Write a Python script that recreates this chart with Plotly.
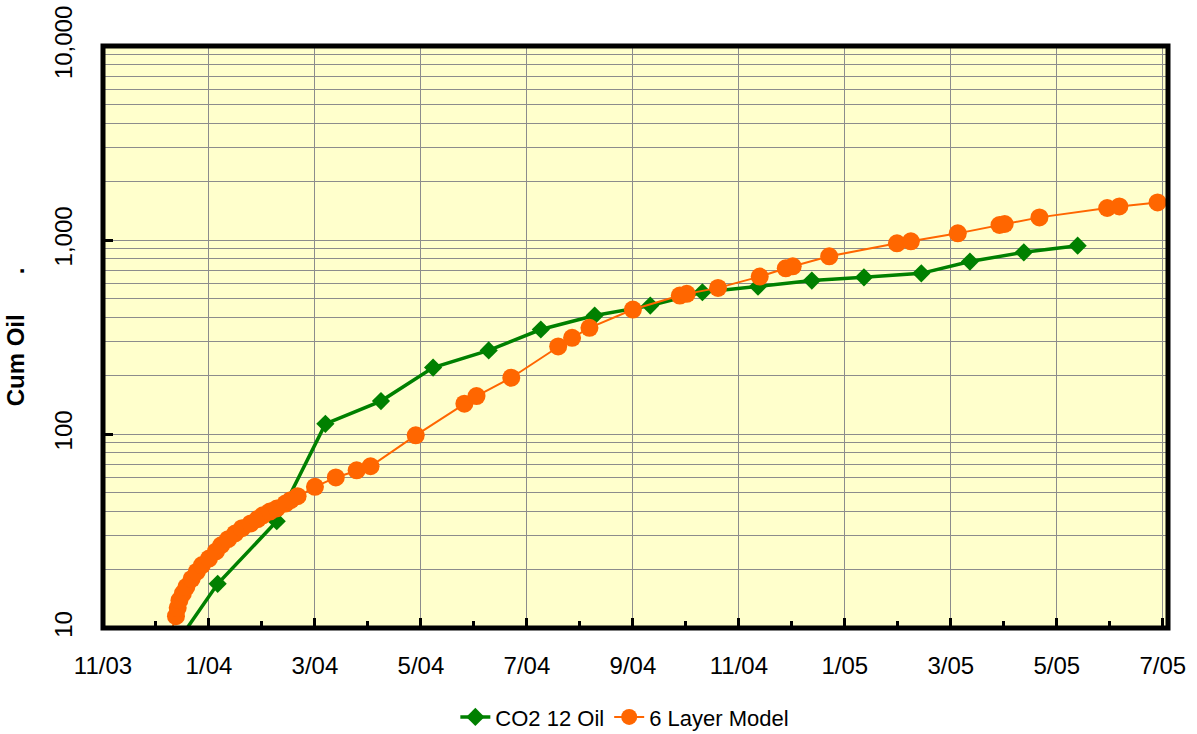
import plotly.graph_objects as go

# ---------------- data ----------------
co2_dates = ["2003-12-07", "2004-01-06", "2004-02-09", "2004-03-08", "2004-04-09",
             "2004-05-09", "2004-06-10", "2004-07-10", "2004-08-10", "2004-09-11",
             "2004-10-11", "2004-11-12", "2004-12-13", "2005-01-12", "2005-02-14",
             "2005-03-14", "2005-04-14", "2005-05-15"]
co2_oil = [6.9, 16.9, 35.5, 112.8, 147.8, 220, 269.5, 345.6, 408, 459,
           537.8, 575, 617.8, 642, 673, 774, 864, 935]

model_dates = ["2003-12-08", "2003-12-13", "2003-12-14", "2003-12-15", "2003-12-17",
               "2003-12-19", "2003-12-22", "2003-12-25", "2003-12-28", "2004-01-01",
               "2004-01-05", "2004-01-08", "2004-01-12", "2004-01-16", "2004-01-20",
               "2004-01-25", "2004-01-29", "2004-02-01", "2004-02-05", "2004-02-09",
               "2004-02-14", "2004-02-17", "2004-02-21", "2004-03-02", "2004-03-14",
               "2004-03-26", "2004-04-03", "2004-04-29", "2004-05-27", "2004-06-03",
               "2004-06-23", "2004-07-20", "2004-07-28", "2004-08-07", "2004-09-01",
               "2004-09-28", "2004-10-02", "2004-10-20", "2004-11-13", "2004-11-28",
               "2004-12-02", "2004-12-23", "2005-01-31", "2005-02-08", "2005-03-07",
               "2005-03-31", "2005-04-03", "2005-04-23", "2005-06-01", "2005-06-08",
               "2005-06-30", "2005-07-31"]
model_oil = [8.2, 11.5, 12.7, 13.9, 15.1, 16.3, 17.9, 19.5, 21.1, 22.8,
             24.8, 26.7, 28.7, 30.7, 32.7, 34.6, 36.4, 38.1, 39.8, 41.3,
             43.8, 45.6, 47.8, 53.4, 59.7, 65.0, 68.2, 98.4, 143.3, 156.8,
             195, 282.6, 313.3, 352.7, 438, 517, 527.6, 566.5, 647.6, 714.5,
             731.7, 823.9, 961, 984, 1082, 1195, 1209, 1308, 1462, 1490,
             1562, 1660]

x_tick_vals = ["2003-11-01", "2004-01-01", "2004-03-02", "2004-05-02", "2004-07-02",
               "2004-09-01", "2004-11-01", "2005-01-01", "2005-03-03", "2005-05-03",
               "2005-07-03"]
x_tick_text = ["11/03", "1/04", "3/04", "5/04", "7/04", "9/04", "11/04", "1/05",
               "3/05", "5/05", "7/05"]
x_minor_vals = ["2003-12-01 12:00", "2004-01-31 12:00", "2004-04-01 12:00",
                "2004-06-01 12:00", "2004-08-01 12:00", "2004-10-01 12:00",
                "2004-12-01 12:00", "2005-01-31 12:00", "2005-04-02 12:00",
                "2005-06-02 12:00"]
x_range = ["2003-11-01", "2005-07-06"]

y_tick_vals = [10, 100, 1000, 10000]
y_tick_text = ["10", "100", "1,000", "10,000"]
y_minor_vals = [m * d for d in (10, 100, 1000) for m in range(2, 10)]

FONT = "Liberation Sans, Arial, sans-serif"
GRID = "#8c8c8c"

fig = go.Figure()
fig.add_trace(go.Scatter(
    x=co2_dates, y=co2_oil, name="CO2 12 Oil", mode="lines+markers",
    line=dict(color="#008000", width=3.5),
    marker=dict(symbol="diamond", size=14, color="#008000"),
))
fig.add_trace(go.Scatter(
    x=model_dates, y=model_oil, name="6 Layer Model", mode="lines+markers",
    line=dict(color="#FF6600", width=2),
    marker=dict(symbol="circle", size=18, color="#FF6600"),
))

fig.update_layout(
    width=1197, height=734,
    margin=dict(l=103, r=29, t=46, b=106, autoexpand=False),
    paper_bgcolor="white",
    plot_bgcolor="#FFFFCC",
    font=dict(family=FONT, size=24, color="black"),
    showlegend=True,
    legend=dict(orientation="h", x=0.49, xanchor="center",
                yref="container", y=0.023, yanchor="middle",
                font=dict(size=22), bgcolor="rgba(0,0,0,0)"),
    xaxis=dict(
        type="date", range=x_range,
        tickmode="array", tickvals=x_tick_vals, ticktext=x_tick_text,
        ticks="inside", ticklen=10, tickwidth=3, tickcolor="black",
        showgrid=True, gridcolor=GRID, gridwidth=1,
        showline=False, zeroline=False,
        ticklabelstandoff=21,
        tickfont=dict(size=24),
        minor=dict(tickvals=x_minor_vals, ticks="inside", ticklen=7, tickwidth=3,
                   tickcolor="black", showgrid=False),
    ),
    yaxis=dict(
        type="log", range=[1, 4],
        tickmode="array", tickvals=y_tick_vals, ticktext=y_tick_text,
        tickangle=-90,
        ticks="inside", ticklen=10, tickwidth=3, tickcolor="black",
        showgrid=True, gridcolor=GRID, gridwidth=1,
        showline=False, zeroline=False,
        ticklabelstandoff=25,
        tickfont=dict(size=24),
        minor=dict(tickvals=y_minor_vals, ticks="", showgrid=True,
                   gridcolor=GRID, gridwidth=1),
        title=dict(text="Cum Oil" + "\u00a0" * 6 + ".",
                   font=dict(size=24, family=FONT, weight="bold"), standoff=18),
    ),
    shapes=[dict(type="rect", xref="paper", yref="paper", x0=0, x1=1, y0=0, y1=1,
                 line=dict(color="black", width=5), layer="above")],
)

fig.write_html("out.html")
